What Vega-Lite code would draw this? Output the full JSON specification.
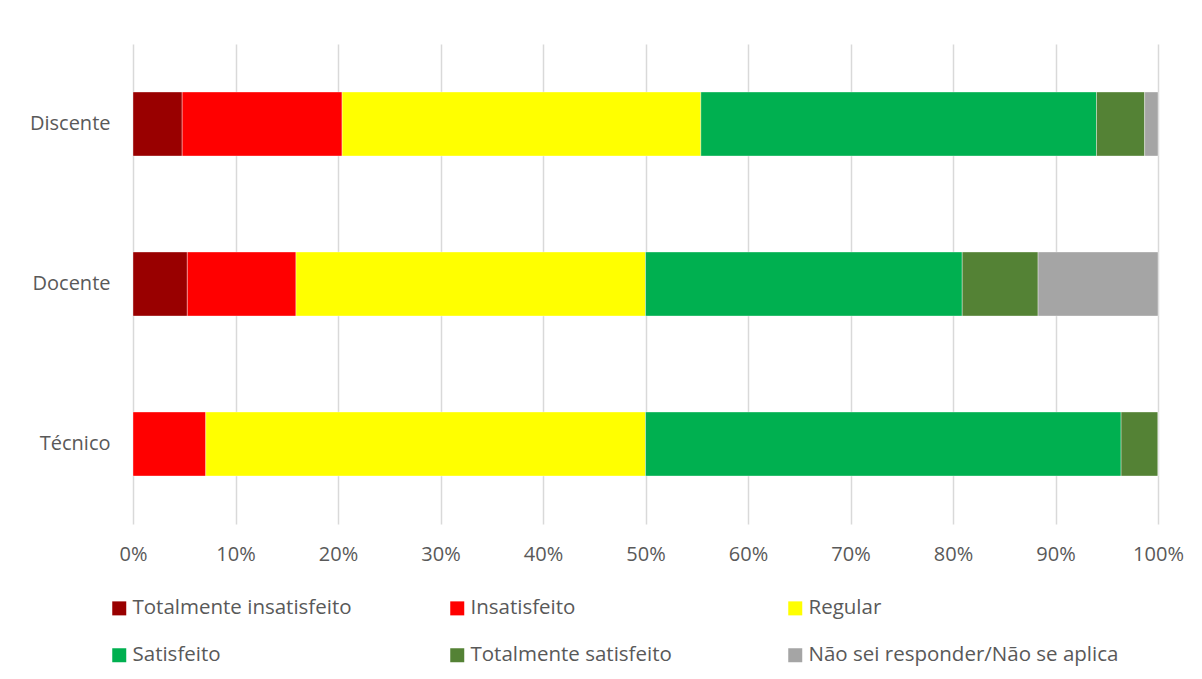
{
  "$schema": "https://vega.github.io/schema/vega-lite/v6.json",
  "width": 1025,
  "height": 480,
  "autosize": {"type": "none"},
  "padding": {"left": 133, "top": 44, "right": 44, "bottom": 155},
  "background": "white",
  "config": {
    "view": {"stroke": null},
    "font": "Open Sans",
    "axis": {"labelFont": "Open Sans", "labelColor": "#595959", "labelFontSize": 20}
  },
  "data": {
    "values": [
      {"grupo": "Discente", "categoria": "Totalmente insatisfeito", "ordem": 1, "valor": 4.8},
      {"grupo": "Discente", "categoria": "Insatisfeito", "ordem": 2, "valor": 15.6},
      {"grupo": "Discente", "categoria": "Regular", "ordem": 3, "valor": 35.0},
      {"grupo": "Discente", "categoria": "Satisfeito", "ordem": 4, "valor": 38.6},
      {"grupo": "Discente", "categoria": "Totalmente satisfeito", "ordem": 5, "valor": 4.7},
      {"grupo": "Discente", "categoria": "Não sei responder/Não se aplica", "ordem": 6, "valor": 1.3},
      {"grupo": "Docente", "categoria": "Totalmente insatisfeito", "ordem": 1, "valor": 5.3},
      {"grupo": "Docente", "categoria": "Insatisfeito", "ordem": 2, "valor": 10.6},
      {"grupo": "Docente", "categoria": "Regular", "ordem": 3, "valor": 34.1},
      {"grupo": "Docente", "categoria": "Satisfeito", "ordem": 4, "valor": 30.9},
      {"grupo": "Docente", "categoria": "Totalmente satisfeito", "ordem": 5, "valor": 7.4},
      {"grupo": "Docente", "categoria": "Não sei responder/Não se aplica", "ordem": 6, "valor": 11.7},
      {"grupo": "Técnico", "categoria": "Totalmente insatisfeito", "ordem": 1, "valor": 0},
      {"grupo": "Técnico", "categoria": "Insatisfeito", "ordem": 2, "valor": 7.1},
      {"grupo": "Técnico", "categoria": "Regular", "ordem": 3, "valor": 42.9},
      {"grupo": "Técnico", "categoria": "Satisfeito", "ordem": 4, "valor": 46.4},
      {"grupo": "Técnico", "categoria": "Totalmente satisfeito", "ordem": 5, "valor": 3.6},
      {"grupo": "Técnico", "categoria": "Não sei responder/Não se aplica", "ordem": 6, "valor": 0}
    ]
  },
  "mark": {"type": "bar", "stroke": "white", "strokeWidth": 0.6, "strokeOpacity": 0.6},
  "encoding": {
    "y": {
      "field": "grupo",
      "type": "nominal",
      "sort": ["Discente", "Docente", "Técnico"],
      "scale": {"paddingInner": 0.6, "paddingOuter": 0.3},
      "axis": {"title": null, "domain": false, "ticks": false, "labelPadding": 23, "grid": false}
    },
    "x": {
      "field": "valor",
      "type": "quantitative",
      "stack": "normalize",
      "scale": {"domain": [0, 1], "nice": false},
      "axis": {
        "title": null,
        "format": ".0%",
        "values": [0, 0.1, 0.2, 0.3, 0.4, 0.5, 0.6, 0.7, 0.8, 0.9, 1],
        "domain": false,
        "ticks": false,
        "grid": true,
        "gridColor": "#d9d9d9",
        "gridWidth": 1.5,
        "labelPadding": 20,
        "labelFlush": false,
        "labelOverlap": false
      }
    },
    "color": {
      "field": "categoria",
      "type": "nominal",
      "sort": ["Totalmente insatisfeito", "Insatisfeito", "Regular", "Satisfeito", "Totalmente satisfeito", "Não sei responder/Não se aplica"],
      "scale": {
        "domain": ["Totalmente insatisfeito", "Insatisfeito", "Regular", "Satisfeito", "Totalmente satisfeito", "Não sei responder/Não se aplica"],
        "range": ["#990000", "#ff0000", "#ffff00", "#00b050", "#548235", "#a5a5a5"]
      },
      "legend": {
        "title": null,
        "orient": "none",
        "legendX": -24,
        "legendY": 554,
        "direction": "horizontal",
        "columns": 3,
        "gridAlign": "all",
        "columnPadding": 4,
        "rowPadding": 26,
        "padding": 0,
        "symbolType": "square",
        "symbolSize": 196,
        "symbolStrokeWidth": 0,
        "labelFont": "Open Sans",
        "labelFontSize": 20.5,
        "labelColor": "#595959",
        "labelOffset": 3,
        "labelLimit": 400
      }
    },
    "order": {"field": "ordem", "type": "quantitative"}
  }
}
